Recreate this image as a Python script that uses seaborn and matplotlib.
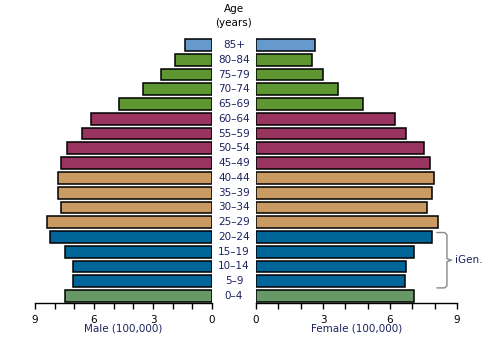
import numpy as np
import pandas as pd
import seaborn as sns
import matplotlib
matplotlib.use("Agg")
from matplotlib import pyplot as plt
from matplotlib import transforms

# age groups, top of the pyramid first
ages = ["85+", "80–84", "75–79", "70–74", "65–69", "60–64", "55–59", "50–54",
        "45–49", "40–44", "35–39", "30–34", "25–29", "20–24", "15–19",
        "10–14", "5–9", "0–4"]
male = [1.37, 1.88, 2.59, 3.51, 4.73, 6.15, 6.61, 7.37, 7.68, 7.83, 7.83,
        7.68, 8.39, 8.25, 7.47, 7.08, 7.08, 7.47]
female = [2.66, 2.52, 3.00, 3.69, 4.81, 6.24, 6.73, 7.52, 7.79, 7.97, 7.88,
          7.66, 8.15, 7.88, 7.08, 6.72, 6.67, 7.08]
group_colors = ["#6699CC"] + ["#5E9732"] * 4 + ["#993360"] * 4 + \
               ["#C99A62"] * 4 + ["#006699"] * 4 + ["#669966"]
bracket_label = "iGen."

df = pd.DataFrame({"Age": ages, "Male": male, "Female": female})
palette = dict(zip(ages, group_colors))

sns.set_theme(style="white")
plt.rcParams["font.family"] = ["DejaVu Sans"]
navy = "#1c2260"

fig = plt.figure(figsize=(4.88, 3.44), dpi=100)
ax_l = fig.add_axes([35 / 488, 0.118, 177 / 488, 0.7727])
ax_r = fig.add_axes([256 / 488, 0.118, 201 / 488, 0.7727])

for ax, col in [(ax_l, "Male"), (ax_r, "Female")]:
    sns.barplot(data=df, x=col, y="Age", hue="Age", palette=palette,
                legend=False, orient="h", order=ages, width=0.8,
                saturation=1, edgecolor="black", linewidth=1.1, ax=ax)
    ax.set_ylim(17.5, -0.5)
    ax.set_yticks([])
    ax.set_ylabel("")
    for s in ["top", "left", "right"]:
        ax.spines[s].set_visible(False)
    ax.spines["bottom"].set_color("black")
    ax.spines["bottom"].set_linewidth(1.0)
    ax.set_xticks([0, 3, 6, 9])
    ax.set_xticks(np.arange(0, 10), minor=True)
    ax.tick_params(axis="x", which="both", bottom=True, length=4, width=1,
                   color="black", labelsize=7.5, pad=4, labelcolor="black")
    ax.set_facecolor("none")

ax_l.set_xlim(9, 0)
ax_r.set_xlim(0, 9)
ax_l.set_xlabel("Male (100,000)", fontsize=7.5, color=navy, labelpad=-1)
ax_r.set_xlabel("Female (100,000)", fontsize=7.5, color=navy, labelpad=-1)

# age labels in the middle
trans = transforms.blended_transform_factory(fig.transFigure, ax_l.transData)
for i, a in enumerate(ages):
    ax_l.text(234 / 488, i, a, transform=trans, ha="center", va="center",
              fontsize=7.5, color=navy)
fig.text(234 / 488, 1 - 16 / 344, "Age\n(years)", ha="center", va="center",
         fontsize=7.5, color="black", linespacing=1.4)

# bracket for iGen (20-24 down to 5-9)
top, bot = ages.index("20–24") - 0.3, ages.index("5–9") + 0.45
mid = (top + bot) / 2
x0, x1 = 8.1, 8.55
bx = [x0, x1 - 0.1, x1, x1, x1 + 0.2, x1, x1, x1 - 0.1, x0]
by = [top, top, top + 0.15, mid - 0.1, mid, mid + 0.1, bot - 0.15, bot, bot]
ax_r.plot(bx, by, color="#888888", lw=1.0, clip_on=False)
ax_r.text(x1 + 0.35, mid, bracket_label, ha="left", va="center",
          fontsize=7.5, color=navy, clip_on=False)

fig.savefig("out.png", dpi=100)
